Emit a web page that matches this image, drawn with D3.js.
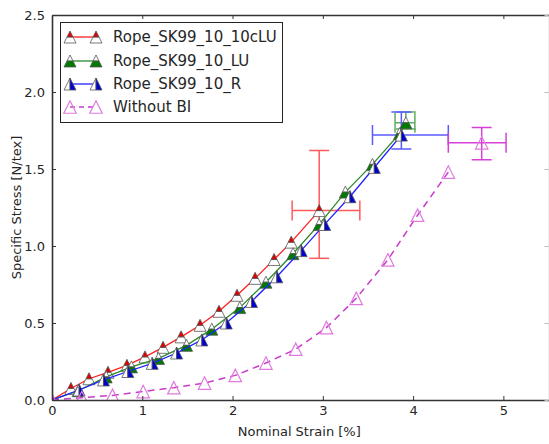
<!DOCTYPE html>
<html><head><meta charset="utf-8">
<script src="https://cdn.jsdelivr.net/npm/d3@7"></script>
<style>
html,body{margin:0;padding:0;background:#fff;}
svg text{font-family:"DejaVu Sans",sans-serif;fill:#262626;}
</style></head>
<body>
<svg id="chart" width="549" height="444"></svg>
<script>
// ---- data ----
const xTicks = [0, 1, 2, 3, 4, 5];
const yTicks = [0, 0.5, 1.0, 1.5, 2.0, 2.5];
const seriesNames = ["Rope_SK99_10_10cLU", "Rope_SK99_10_LU", "Rope_SK99_10_R", "Without BI"];

const redX = [0, 0.21, 0.41, 0.62, 0.83, 1.03, 1.23, 1.43, 1.64, 1.85, 2.05, 2.25, 2.46, 2.65, 2.96];
const redY = [0, 0.075, 0.138, 0.18, 0.225, 0.28, 0.342, 0.41, 0.485, 0.576, 0.68, 0.79, 0.912, 1.025, 1.23];

const greenX = [0, 0.29, 0.60, 0.88, 1.18, 1.49, 1.77, 2.08, 2.37, 2.67, 2.96, 3.25, 3.55, 3.85, 3.92];
const greenY = [0, 0.06, 0.15, 0.215, 0.27, 0.355, 0.46, 0.60, 0.765, 0.95, 1.14, 1.35, 1.53, 1.73, 1.80];

const blueX = [0, 0.30, 0.57, 0.84, 1.11, 1.38, 1.66, 1.93, 2.21, 2.49, 2.76, 3.02, 3.30, 3.57, 3.87];
const blueY = [0, 0.065, 0.13, 0.185, 0.238, 0.305, 0.39, 0.50, 0.64, 0.80, 0.97, 1.14, 1.32, 1.51, 1.72];

const noBIX = [0, 0.33, 0.67, 1.01, 1.35, 1.69, 2.03, 2.37, 2.70, 3.04, 3.37, 3.72, 4.05, 4.39];
const noBIY = [0, 0.015, 0.03, 0.055, 0.08, 0.11, 0.16, 0.24, 0.33, 0.47, 0.66, 0.91, 1.20, 1.48];

// error bars: red, green, blue, without BI
const errX   = [2.96, 3.92, 3.87, 4.76];
const errY   = [1.23, 1.80, 1.72, 1.67];
const errXLo = [2.66, 3.80, 3.55, 4.39];
const errXHi = [3.41, 4.02, 4.39, 5.03];
const errYLo = [0.92, 1.76, 1.63, 1.56];
const errYHi = [1.62, 1.87, 1.87, 1.77];

// ---- styles ----
const styles = [
  {line:"#ff2020", fill:"#e00000", half:"top",    dash:null, err:"#ff5a5a"},
  {line:"#2a8a2a", fill:"#007a00", half:"bottom", dash:null, err:"#5fae5f"},
  {line:"#2020ff", fill:"#0000d0", half:"right",  dash:null, err:"#5a5aff"},
  {line:"#c83cc8", fill:null,      half:null,     dash:"7,5", err:"#d640d6", open:"#e07ae0"}
];
const seriesX = [redX, greenX, blueX, noBIX];
const seriesY = [redY, greenY, blueY, noBIY];

const svg = d3.select("#chart");
const W = 549, H = 444;
const m = {l:52, r:0.5, t:15, b:44};
const x = d3.scaleLinear().domain([0, 5.5]).range([m.l, W - m.r]);
const y = d3.scaleLinear().domain([0, 2.5]).range([H - m.b, m.t]);

svg.append("defs").append("clipPath").attr("id","clip")
  .append("rect").attr("x", m.l).attr("y", m.t)
  .attr("width", x.range()[1]-m.l).attr("height", y.range()[0]-m.t);

// triangle marker paths
function tri(s){const h=s/2;return `M0,${-h}L${h},${h}L${-h},${h}Z`;}
function halfPath(s, kind){
  const h=s/2;
  if(kind==="top") return `M0,${-h}L${h/2},0L${-h/2},0Z`;
  if(kind==="bottom") return `M${-h/2},0L${h/2},0L${h},${h}L${-h},${h}Z`;
  if(kind==="right") return `M0,${-h}L${h},${h}L0,${h}Z`;
  return "";
}
function otherHalf(s, kind){
  const h=s/2;
  if(kind==="top") return `M${-h/2},0L${h/2},0L${h},${h}L${-h},${h}Z`;
  if(kind==="bottom") return `M0,${-h}L${h/2},0L${-h/2},0Z`;
  if(kind==="right") return `M0,${-h}L0,${h}L${-h},${h}Z`;
  return "";
}
function drawMarker(g, cx, cy, st){
  const mg = g.append("g").attr("transform", `translate(${cx},${cy})`);
  if(st.fill){
    const s = 12;
    mg.append("path").attr("d", otherHalf(s, st.half)).attr("fill","#fff").attr("stroke","#555").attr("stroke-width",0.8).attr("stroke-linejoin","miter");
    mg.append("path").attr("d", halfPath(s, st.half)).attr("fill",st.fill).attr("stroke","#555").attr("stroke-width",0.8).attr("stroke-linejoin","miter");
  } else {
    mg.append("path").attr("d", tri(12.5)).attr("fill","none").attr("stroke",st.open).attr("stroke-width",1.2);
  }
}

const plot = svg.append("g").attr("clip-path","url(#clip)");

// error bars (drawn beneath series)
const cap = 10;
errX.forEach((cx,i)=>{
  const st = styles[i];
  const g = plot.append("g").attr("stroke", st.err).attr("stroke-width",1.5).attr("fill","none");
  g.append("line").attr("x1",x(errXLo[i])).attr("x2",x(errXHi[i])).attr("y1",y(errY[i])).attr("y2",y(errY[i]));
  g.append("line").attr("x1",x(cx)).attr("x2",x(cx)).attr("y1",y(errYLo[i])).attr("y2",y(errYHi[i]));
  [errXLo[i], errXHi[i]].forEach(v=>g.append("line").attr("x1",x(v)).attr("x2",x(v)).attr("y1",y(errY[i])-cap).attr("y2",y(errY[i])+cap));
  [errYLo[i], errYHi[i]].forEach(v=>g.append("line").attr("x1",x(cx)-cap).attr("x2",x(cx)+cap).attr("y1",y(v)).attr("y2",y(v)));
});

// series
const lineGen = d3.line().x(d=>x(d[0])).y(d=>y(d[1]));
seriesX.forEach((xs,i)=>{
  const st = styles[i];
  const pts = xs.map((v,j)=>[v, seriesY[i][j]]);
  const g = plot.append("g");
  g.append("path").datum(pts).attr("d", lineGen).attr("fill","none")
    .attr("stroke", st.line).attr("stroke-width", i===3?1.5:1.3)
    .attr("stroke-dasharray", st.dash);
  pts.forEach(p=>drawMarker(g, x(p[0]), y(p[1]), st));
});
// separate marker on the Without BI error bar
drawMarker(plot.append("g"), x(errX[3]), y(errY[3]), styles[3]);

// axes
const axG = svg.append("g");
const xAxis = d3.axisBottom(x).tickValues(xTicks).tickFormat(d3.format("d")).tickSizeInner(-4).tickSizeOuter(0).tickPadding(6);
const yAxis = d3.axisLeft(y).tickValues(yTicks).tickFormat(d3.format(".1f")).tickSizeInner(-4).tickSizeOuter(0).tickPadding(7);
const xTop = d3.axisTop(x).tickValues(xTicks).tickFormat("").tickSizeInner(-4).tickSizeOuter(0);
const yRight = d3.axisRight(y).tickValues(yTicks).tickFormat("").tickSizeInner(-4).tickSizeOuter(0);

const gx = axG.append("g").attr("transform",`translate(0,${y(0)})`).call(xAxis);
const gy = axG.append("g").attr("transform",`translate(${x(0)},0)`).call(yAxis);
const gt = axG.append("g").attr("transform",`translate(0,${y(2.5)})`).call(xTop);
const gr = axG.append("g").attr("transform",`translate(${x(5.5)},0)`).call(yRight);
[gx,gy,gt,gr].forEach(g=>{
  g.selectAll("path.domain").attr("stroke","#333").attr("stroke-width",1.6);
  g.selectAll(".tick line").attr("stroke","#333").attr("stroke-width",1);
  g.selectAll(".tick text").attr("font-size",13).attr("fill","#262626").attr("font-family","DejaVu Sans");
});
gr.selectAll("path.domain").attr("stroke","#ddd").attr("stroke-width",1);
gr.selectAll(".tick line").attr("stroke","#bbb");

// axis labels
svg.append("text").attr("x", (x(0)+x(5.5))/2 - 1).attr("y", 436).attr("text-anchor","middle")
  .attr("font-size",13).text("Nominal Strain [%]");
svg.append("text").attr("transform",`translate(16,${(y(0)+y(2.5))/2}) rotate(-90)`)
  .attr("text-anchor","middle").attr("dy","0.35em").attr("font-size",13).text("Specific Stress [N/tex]");

// legend
const lg = svg.append("g");
lg.append("rect").attr("x",60.5).attr("y",22.5).attr("width",222).attr("height",100)
  .attr("fill","#fff").attr("stroke","#222").attr("stroke-width",1);
const rowY = [37, 61, 84, 107];
seriesNames.forEach((name,i)=>{
  const st = styles[i];
  const yy = rowY[i];
  lg.append("line").attr("x1",70).attr("x2",96).attr("y1",yy).attr("y2",yy)
    .attr("stroke",st.line).attr("stroke-width",i===3?1.5:1.3).attr("stroke-dasharray", i===3?"5,4":null);
  drawMarker(lg, 70, yy, st);
  drawMarker(lg, 96, yy, st);
  lg.append("text").attr("x",113).attr("y",yy).attr("dy","0.36em").attr("font-size",15).text(name);
});
</script>
</body></html>
